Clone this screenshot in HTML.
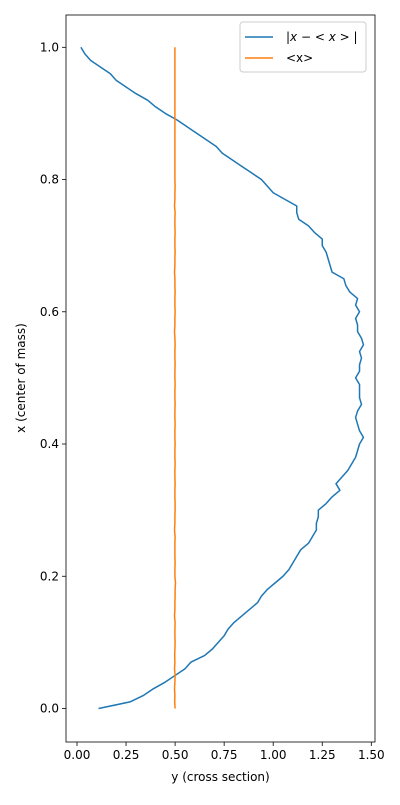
<!DOCTYPE html>
<html><head><meta charset="utf-8"><style>
body{margin:0;background:#fff;font-family:"Liberation Sans","DejaVu Sans",sans-serif;}
svg text{font-family:"DejaVu Sans","Liberation Sans",sans-serif;font-size:12px;fill:#000}
</style></head><body>
<svg id="chart" width="400" height="800" xmlns="http://www.w3.org/2000/svg"></svg>
<script>
const xs = [0,0.01,0.02,0.03,0.04,0.05,0.06,0.07,0.08,0.09,0.10,0.11,0.12,0.13,0.14,0.15,0.16,0.17,0.18,0.19,0.20,0.21,0.22,0.23,0.24,0.25,0.26,0.27,0.28,0.29,0.30,0.31,0.32,0.33,0.34,0.35,0.36,0.37,0.38,0.39,0.40,0.41,0.42,0.43,0.44,0.45,0.46,0.47,0.48,0.49,0.50,0.51,0.52,0.53,0.54,0.55,0.56,0.57,0.58,0.59,0.60,0.61,0.62,0.63,0.64,0.65,0.66,0.67,0.68,0.69,0.70,0.71,0.72,0.73,0.74,0.75,0.76,0.77,0.78,0.79,0.80,0.81,0.82,0.83,0.84,0.85,0.86,0.87,0.88,0.89,0.90,0.91,0.92,0.93,0.94,0.95,0.96,0.97,0.98,0.99,1.00];
const spread = [0.11,0.27,0.34,0.39,0.45,0.50,0.55,0.58,0.65,0.69,0.72,0.75,0.77,0.80,0.84,0.88,0.92,0.94,0.97,1.01,1.05,1.08,1.10,1.12,1.14,1.18,1.20,1.22,1.22,1.23,1.23,1.27,1.30,1.34,1.32,1.35,1.38,1.40,1.42,1.43,1.44,1.46,1.44,1.43,1.42,1.43,1.45,1.44,1.44,1.44,1.42,1.44,1.44,1.45,1.44,1.46,1.45,1.43,1.43,1.42,1.44,1.42,1.43,1.39,1.37,1.36,1.30,1.29,1.28,1.27,1.25,1.25,1.21,1.18,1.13,1.12,1.12,1.06,1.00,0.97,0.94,0.89,0.84,0.79,0.74,0.71,0.66,0.61,0.56,0.51,0.45,0.40,0.36,0.30,0.25,0.20,0.17,0.12,0.07,0.04,0.02];
const mean = [0.500,0.498,0.499,0.497,0.499,0.500,0.497,0.499,0.498,0.499,0.500,0.499,0.499,0.500,0.497,0.499,0.499,0.500,0.500,0.502,0.499,0.499,0.500,0.499,0.499,0.499,0.500,0.497,0.499,0.499,0.500,0.500,0.499,0.499,0.500,0.499,0.499,0.500,0.499,0.499,0.500,0.499,0.499,0.500,0.499,0.499,0.500,0.499,0.499,0.500,0.499,0.499,0.500,0.499,0.499,0.500,0.499,0.497,0.499,0.499,0.500,0.499,0.499,0.500,0.499,0.499,0.497,0.499,0.499,0.500,0.499,0.499,0.500,0.499,0.499,0.500,0.497,0.499,0.499,0.500,0.499,0.499,0.499,0.499,0.499,0.499,0.499,0.499,0.499,0.499,0.499,0.499,0.499,0.499,0.499,0.499,0.499,0.499,0.499,0.499,0.499];
const xTicks = [0,0.25,0.5,0.75,1.0,1.25,1.5];
const xTickLabels = ["0.00","0.25","0.50","0.75","1.00","1.25","1.50"];
const yTicks = [0,0.2,0.4,0.6,0.8,1.0];
const yTickLabels = ["0.0","0.2","0.4","0.6","0.8","1.0"];

const NS="http://www.w3.org/2000/svg", svg=document.getElementById('chart');
const L=66,R=375,T=15,B=742;
const sx=v=>77+v*196.2, sy=v=>708.5-v*661.2;
function mk(tag,a,p){const e=document.createElementNS(NS,tag);for(const k in a)e.setAttribute(k,a[k]);(p||svg).appendChild(e);return e;}

xTicks.forEach((v,i)=>{
  const t=mk('line',{x1:sx(v),x2:sx(v),y1:B,y2:B+4,stroke:'#000','stroke-width':0.8});
  
  
  const l=mk('text',{x:sx(v),y:B+17,'text-anchor':'middle'});l.textContent=xTickLabels[i];
  
  
});
yTicks.forEach((v,i)=>{
  const t=mk('line',{x1:L-4,x2:L,y1:sy(v),y2:sy(v),stroke:'#000','stroke-width':0.8});
  
  
  const l=mk('text',{x:L-7,y:sy(v)+4,'text-anchor':'end'});l.textContent=yTickLabels[i];
  
  
});
const p1=mk('polyline',{points:xs.map((x,i)=>sx(spread[i])+','+sy(x)).join(' '),fill:'none',stroke:'#1f77b4','stroke-width':1.5,'stroke-linejoin':'round'});


const p2=mk('polyline',{points:xs.map((x,i)=>sx(mean[i])+','+sy(x)).join(' '),fill:'none',stroke:'#ff7f0e','stroke-width':1.5,'stroke-linejoin':'round'});


const fr=mk('rect',{x:L,y:T,width:R-L,height:B-T,fill:'none',stroke:'#000','stroke-width':0.8});



const xl=mk('text',{x:(L+R)/2,y:781,'text-anchor':'middle'});xl.textContent='y (cross section)';


const yl=mk('text',{x:0,y:0,'text-anchor':'middle',transform:'translate(25,378) rotate(-90)'});yl.textContent='x (center of mass)';



const lg=mk('g',{});


mk('rect',{x:240,y:22,width:126,height:50,rx:3,fill:'#fff','fill-opacity':0.8,stroke:'#ccc','stroke-width':1},lg);
const e1=mk('line',{x1:245,x2:273,y1:37,y2:37,stroke:'#1f77b4','stroke-width':1.5},lg);


const t1=mk('text',{x:286,y:41},lg);t1.innerHTML='|<tspan font-style="italic">x</tspan> − &lt; <tspan font-style="italic">x</tspan> &gt; |';


const e2=mk('line',{x1:245,x2:273,y1:58,y2:58,stroke:'#ff7f0e','stroke-width':1.5},lg);


const t2=mk('text',{x:286,y:62},lg);t2.textContent='<x>';


</script>
</body></html>
